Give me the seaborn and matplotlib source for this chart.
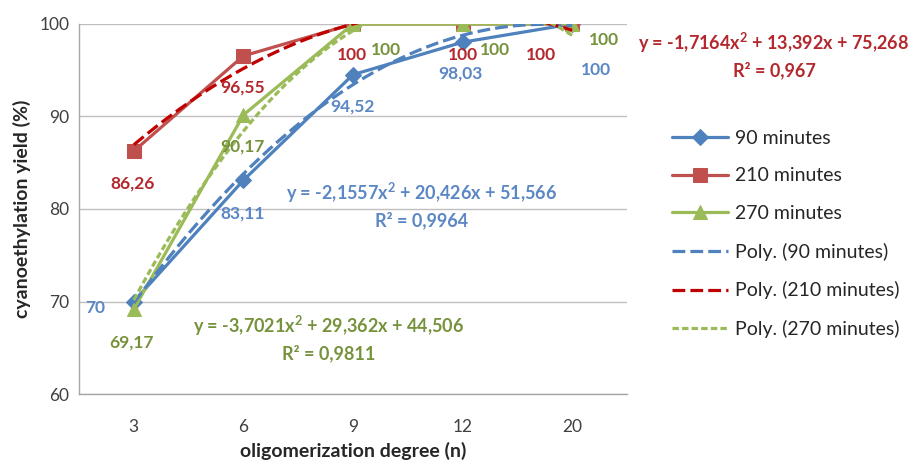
import numpy as np
import pandas as pd
import matplotlib
matplotlib.use("Agg")
import matplotlib.pyplot as plt
import seaborn as sns

categories = ["3", "6", "9", "12", "20"]
y90 = [70, 83.11, 94.52, 98.03, 100]
y210 = [86.26, 96.55, 100, 100, 100]
y270 = [69.17, 90.17, 100, 100, 100]
labels90 = ["70", "83,11", "94,52", "98,03", "100"]
labels210 = ["86,26", "96,55", "100", "100", "100"]
labels270 = ["69,17", "90,17", "100", "100", "100"]
eq90 = "y = -2,1557x$^{2}$ + 20,426x + 51,566\nR² = 0,9964"
eq210 = "y = -1,7164x$^{2}$ + 13,392x + 75,268\nR² = 0,967"
eq270 = "y = -3,7021x$^{2}$ + 29,362x + 44,506\nR² = 0,9811"

sns.set_style("white")
plt.rcParams['font.family'] = ['Lato', 'DejaVu Sans']
plt.rcParams['mathtext.fontset'] = 'custom'
plt.rcParams['mathtext.rm'] = 'Lato'
plt.rcParams['mathtext.bf'] = 'Lato:bold'
plt.rcParams['mathtext.default'] = 'regular'

BLUE, RED, GREEN = "#4F81BD", "#C0504D", "#9BBB59"
BLUE_T, RED_T, GREEN_T = "#5B87C5", "#B3282D", "#76923C"

fig = plt.figure(figsize=(9.21, 4.61), dpi=100)
ax = fig.add_axes([0.0858, 0.1453, 0.595, 0.8027])

xpos = np.arange(1, len(categories) + 1)
df = pd.DataFrame({"x": np.tile(xpos, 3),
                   "y": y90 + y210 + y270,
                   "series": ["90 minutes"] * 5 + ["210 minutes"] * 5 + ["270 minutes"] * 5})

specs = [("90 minutes", y90, BLUE, "D", 8), ("210 minutes", y210, RED, "s", 10), ("270 minutes", y270, GREEN, "^", 10.5)]
for name, ys, col, mk, ms in specs:
    sub = df[df.series == name]
    sns.lineplot(data=sub, x="x", y="y", ax=ax, color=col, marker=mk, markersize=ms,
                 markeredgecolor=col, linewidth=2.3, label=name, zorder=3)

# polynomial trendlines (order 2) fitted from data
xs = np.linspace(1, 5, 200)
tr_specs = [("Poly. (90 minutes)", y90, BLUE, (0, (4, 1.6))),
            ("Poly. (210 minutes)", y210, "#C00000", (0, (4, 1.6))),
            ("Poly. (270 minutes)", y270, GREEN, (0, (2, 1)))]
for name, ys, col, ls in tr_specs:
    c = np.polyfit(xpos, ys, 2)
    tdf = pd.DataFrame({"x": xs, "y": np.polyval(c, xs)})
    sns.lineplot(data=tdf, x="x", y="y", ax=ax, color=col, linewidth=2.3, linestyle=ls,
                 label=name, zorder=4)

ax.set_xlim(0.5, 5.5)
ax.set_ylim(60, 100)
ax.set_yticks([60, 70, 80, 90, 100])
ax.set_xticks(xpos)
ax.set_xticklabels(categories)
ax.set_xticks(np.arange(0.5, 5.6, 1), minor=True)
ax.tick_params(axis="x", which="major", length=0, pad=18, labelsize=12.5, colors="#404040")
ax.tick_params(axis="x", which="minor", length=5, width=1, color="#A6A6A6", direction="out")
ax.tick_params(axis="y", length=4, width=1, color="#A6A6A6", direction="out", labelsize=12.5,
               labelcolor="#404040", pad=3)
ax.grid(axis="y", color="#BFBFBF", linewidth=1)
for s in ["top", "right"]:
    ax.spines[s].set_visible(False)
for s in ["left", "bottom"]:
    ax.spines[s].set_color("#A6A6A6")
    ax.spines[s].set_linewidth(1)

ax.set_xlabel("oligomerization degree (n)", fontsize=14, fontweight="bold", labelpad=5)
ax.set_ylabel("cyanoethylation yield (%)", fontsize=14, fontweight="bold", labelpad=6)

# data labels
fs = 12.5
def lab(i, ys, txt, dx, dy, col, ha="center"):
    ax.annotate(txt, (xpos[i], ys[i]), xytext=(dx, dy), textcoords="offset pixels",
                ha=ha, va="center", fontsize=fs, fontweight="bold", color=col, zorder=6)

# 90 minutes (blue)
lab(0, y90, labels90[0], -39, -6, BLUE_T)
lab(1, y90, labels90[1], -1, -33, BLUE_T)
lab(2, y90, labels90[2], -1, -32, BLUE_T)
lab(3, y90, labels90[3], -2, -31, BLUE_T)
lab(4, y90, labels90[4], 24, -46, BLUE_T)
# 210 minutes (red)
lab(0, y210, labels210[0], -1, -32, RED_T)
lab(1, y210, labels210[1], -1, -32, RED_T)
lab(2, y210, labels210[2], -1, -31, RED_T)
lab(3, y210, labels210[3], 0, -31, RED_T)
lab(4, y210, labels210[4], -31, -31, RED_T)
# 270 minutes (green)
lab(0, y270, labels270[0], -2, -33, GREEN_T)
lab(1, y270, labels270[1], -1, -32, GREEN_T)
lab(2, y270, labels270[2], 33, -26, GREEN_T)
lab(3, y270, labels270[3], 32, -26, GREEN_T)
lab(4, y270, labels270[4], 32, -16, GREEN_T)

# trendline equations
eq_kw = dict(ha="center", va="center", fontsize=13, fontweight="bold",
             multialignment="center", linespacing=1.45)
fig.text(422 / 921, 1 - 205 / 461, eq90, color=BLUE_T, **eq_kw)
fig.text(774 / 921, 1 - 55 / 461, eq210, color=RED_T, **eq_kw)
fig.text(329 / 921, 1 - 338 / 461, eq270, color=GREEN_T, **eq_kw)

handles, labels = ax.get_legend_handles_labels()
leg = ax.legend(handles, labels, loc="upper left", bbox_to_anchor=(1.082, 0.714),
                frameon=False, fontsize=14, handlelength=2.9, handletextpad=0.36,
                labelspacing=1.06, borderaxespad=0, borderpad=0)

fig.savefig("out.png", dpi=100)
